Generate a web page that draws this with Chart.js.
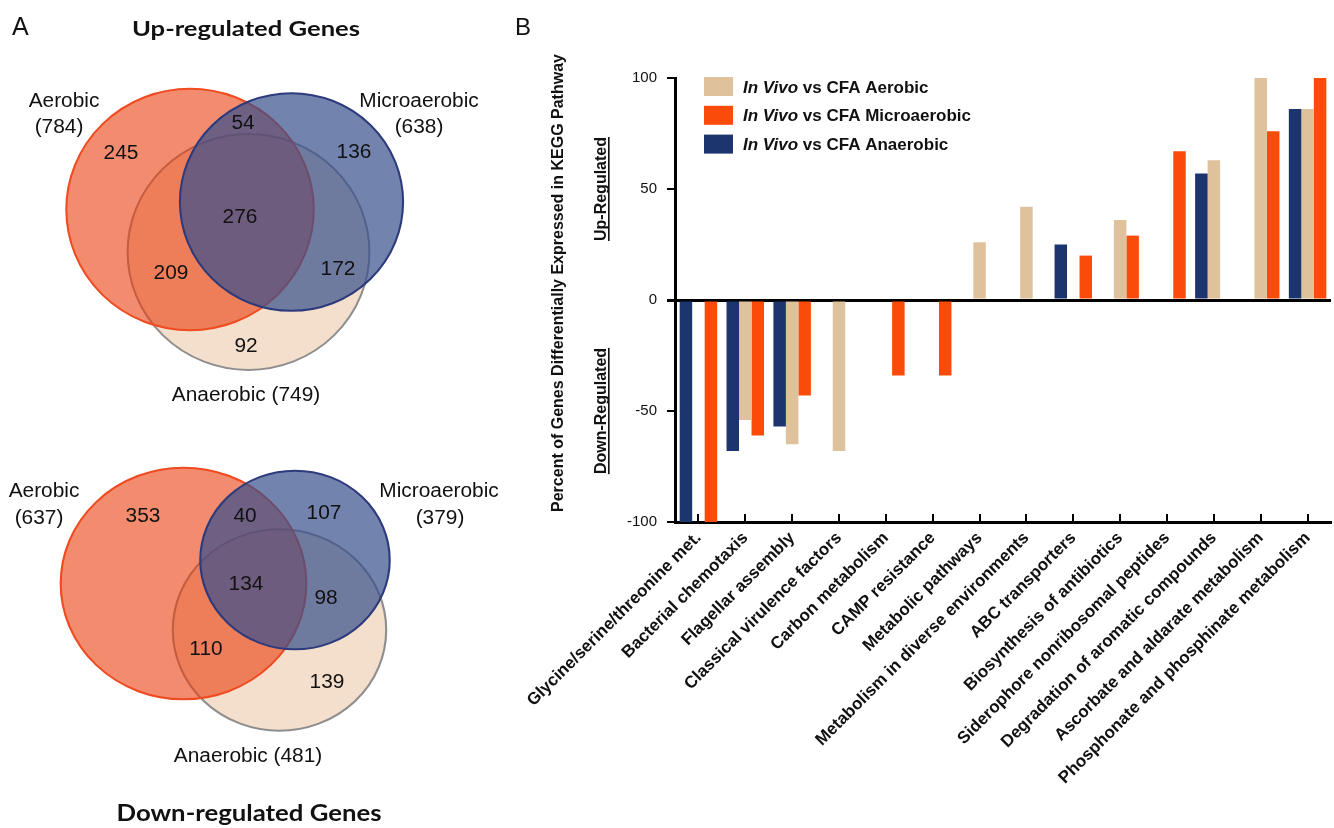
<!DOCTYPE html>
<html><head><meta charset="utf-8">
<script src="https://cdn.jsdelivr.net/npm/chart.js@4.4.0/dist/chart.umd.min.js"></script>
<style>
html,body{margin:0;padding:0;background:#fff;overflow:hidden;width:1334px;height:828px;}
canvas{position:absolute;left:0;top:0;}
</style></head><body>
<canvas id="bar" width="1336" height="828"></canvas>
<canvas id="venn" width="530" height="828"></canvas>
<script>
// ================= DATA =================
// Panel B: KEGG pathway categories
const categories = [
  'Glycine/serine/threonine met.', 'Bacterial chemotaxis', 'Flagellar assembly',
  'Classical virulence factors', 'Carbon metabolism', 'CAMP resistance',
  'Metabolic pathways', 'Metabolism in diverse environments', 'ABC transporters',
  'Biosynthesis of antibiotics', 'Siderophore nonribosomal peptides',
  'Degradation of aromatic compounds', 'Ascorbate and aldarate metabolism',
  'Phosphonate and phosphinate metabolism'
];
// Percent of genes differentially expressed (null = no bar)
const anaerobicPct    = [-100, -68, -57, null, null, null, null, null, 25, null, null, 57, null, 86];
const aerobicPct      = [null, -54, -65, -68, null, null, 26, 42, null, 36, null, 63, 100, 86];
const microaerobicPct = [-100, -61, -43, null, -34, -34, null, null, 20, 29, 67, null, 76, 100];
const yTickValues = [-100, -50, 0, 50, 100];
const legendConditions = ['Aerobic', 'Microaerobic', 'Anaerobic'];

// Panel A: Venn diagram region counts
const vennSetNames = ['Aerobic', 'Microaerobic', 'Anaerobic'];
const vennSetKeys = ['A', 'M', 'N'];
const vennRegionKeys = ['A', 'AM', 'M', 'AMN', 'AN', 'MN', 'N'];
const upRegulatedCounts   = [245, 54, 136, 276, 209, 172, 92];
const downRegulatedCounts = [353, 40, 107, 134, 110, 98, 139];
const vennTitles = ['Up-regulated Genes', 'Down-regulated Genes'];

// ================= LAYOUT / STYLE =================
const FONT = '"Liberation Sans", Arial, Helvetica, sans-serif';
const TITLE_FONT = 'Lato, "Open Sans", sans-serif';
Chart.defaults.font.family = FONT;
Chart.defaults.color = '#111';

const COL = { aer: '#DFC19C', mic: '#FA4B0A', ana: '#1C356F' };

const vennLayout = [
  { title: [246, 36], titleW: 228, titleSize: 20, k: 4.31, sx: 1.025,
    centers: [[190, 209.5], [291.5, 202], [248.5, 252]],
    regions: [[121, 159], [243, 129], [354, 158], [240, 223], [171, 279], [338, 275], [246, 352]],
    labels: [{ pos: [64, 107], pos2: [59, 133] }, { pos: [419, 107], pos2: [419, 133] }, { pos: [246, 401] }] },
  { title: [249, 821], titleW: 265, titleSize: 22, k: 4.59, sx: 1.06,
    centers: [[183.5, 583.5], [295, 560], [279.5, 630]],
    regions: [[143, 522], [245, 522], [324, 519], [246, 590], [206, 655], [326, 604], [327, 688]],
    labels: [{ pos: [44, 497], pos2: [39, 524] }, { pos: [439, 497], pos2: [440, 524] }, { pos: [248, 762] }] }
];
const vennStyle = {
  A: { fill: 'rgba(235,58,11,0.59)', stroke: '#EF4A20' },
  M: { fill: 'rgba(54,78,139,0.70)', stroke: '#2D3A7C' },
  N: { fill: '#F3DFCB', stroke: '#8E8E8E' }
};
// Chart.js paints the last dataset first: listing Micro, Aerobic, Anaerobic
// paints Anaerobic at the bottom and Microaerobic on top.
const vennListOrder = [1, 0, 2];

// ================= HELPERS =================
function setTotal(counts, key) {
  return counts.reduce((s, n, i) => s + (vennRegionKeys[i].includes(key) ? n : 0), 0);
}
function drawText(ctx, txt, x, y, font, sx, align) {
  ctx.save();
  ctx.font = font; ctx.fillStyle = '#111';
  ctx.textAlign = align || 'center'; ctx.textBaseline = 'alphabetic';
  ctx.translate(x, y); ctx.scale(sx || 1, 1);
  ctx.fillText(txt, 0, 0);
  ctx.restore();
}
function fitText(ctx, txt, x, y, font, width) {
  ctx.save(); ctx.font = font;
  const w = ctx.measureText(txt).width;
  ctx.restore();
  drawText(ctx, txt, x, y, font, width / w);
}
function rotText(ctx, txt, x, y, font, underline) {
  ctx.save();
  ctx.translate(x, y); ctx.rotate(-Math.PI / 2);
  ctx.font = font; ctx.fillStyle = '#111';
  ctx.textAlign = 'center'; ctx.textBaseline = 'alphabetic';
  ctx.fillText(txt, 0, 0);
  if (underline) {
    const w = ctx.measureText(txt).width;
    ctx.fillRect(-w / 2, 2, w, 1.6);
  }
  ctx.restore();
}

// ================= BAR CHART (panel B) =================
const barDecor = {
  id: 'barDecor',
  afterDraw(chart) {
    const ctx = chart.ctx, ys = chart.scales.y;
    drawText(ctx, 'B', 515, 35, `24px ${FONT}`, 1, 'left');
    rotText(ctx, 'Percent of Genes Differentially Expressed in KEGG Pathway', 563, 283, `bold 16px ${FONT}`, false);
    const up = (ys.getPixelForValue(0) + ys.getPixelForValue(100)) / 2;
    const dn = (ys.getPixelForValue(0) + ys.getPixelForValue(-100)) / 2;
    rotText(ctx, 'Up-Regulated', 606, up, `bold 16px ${FONT}`, true);
    rotText(ctx, 'Down-Regulated', 606, dn, `bold 16px ${FONT}`, true);
    // legend
    const LX = 704, LW = 29, LH = 19, Y0 = 86.5, DY = 28.8, TX = 743;
    legendConditions.forEach((cond, row) => {
      const ds = chart.data.datasets.find(d => d.condition === cond);
      const cy = Y0 + row * DY;
      ctx.save();
      ctx.fillStyle = ds.backgroundColor;
      ctx.fillRect(LX, cy - LH / 2, LW, LH);
      ctx.fillStyle = '#111'; ctx.textAlign = 'left'; ctx.textBaseline = 'alphabetic';
      ctx.font = `italic bold 17px ${FONT}`;
      ctx.fillText('In Vivo', TX, cy + 6);
      const w = ctx.measureText('In Vivo').width;
      ctx.font = `bold 17px ${FONT}`;
      ctx.fillText(' vs CFA ' + cond, TX + w, cy + 6);
      ctx.restore();
    });
  }
};

const isZero = c => c.tick && c.tick.value === 0;
new Chart(document.getElementById('bar'), {
  type: 'bar',
  data: {
    labels: categories,
    datasets: [
      { label: 'In Vivo vs CFA Anaerobic', condition: 'Anaerobic', data: anaerobicPct, backgroundColor: COL.ana },
      { label: 'In Vivo vs CFA Aerobic', condition: 'Aerobic', data: aerobicPct, backgroundColor: COL.aer },
      { label: 'In Vivo vs CFA Microaerobic', condition: 'Microaerobic', data: microaerobicPct, backgroundColor: COL.mic }
    ]
  },
  options: {
    responsive: false, animation: false, devicePixelRatio: 1, events: [],
    layout: { padding: { top: 78, right: 0, left: 0, bottom: 0 } },
    datasets: { bar: { categoryPercentage: 0.8, barPercentage: 1.0, borderWidth: 0 } },
    plugins: { legend: { display: false }, tooltip: { enabled: false } },
    scales: {
      x: {
        offset: true,
        grid: { offset: false, drawOnChartArea: false, color: '#000', lineWidth: 2, tickLength: -8 },
        border: { color: '#000', width: 3 },
        ticks: { color: '#111', font: { size: 17, weight: 'bold' }, minRotation: 45, maxRotation: 45, autoSkip: false, padding: 14 },
        afterFit(s) { s.height = 828 - 522; }
      },
      y: {
        min: -100, max: 100,
        afterBuildTicks(s) { s.ticks = yTickValues.map(v => ({ value: v })); },
        grid: {
          color: c => isZero(c) ? '#000' : 'rgba(0,0,0,0)',
          lineWidth: c => isZero(c) ? 3 : 0,
          tickColor: '#000',
          tickWidth: c => isZero(c) ? 3 : 2,
          tickLength: 8
        },
        border: { color: '#000', width: 3 },
        ticks: { color: '#111', font: { size: 15 }, padding: 10 },
        afterFit(s) { s.width = 675; }
      }
    }
  },
  plugins: [barDecor]
});

// ================= VENN DIAGRAMS (panel A) =================
const radiusFn = c => {
  const s = c.chart.scales.x;
  return s.getPixelForValue(c.dataset.k * Math.sqrt(c.raw.n)) - s.getPixelForValue(0);
};
const vennCountSets = [upRegulatedCounts, downRegulatedCounts];
const vennDatasets = [];
vennCountSets.forEach((counts, d) => {
  const L = vennLayout[d];
  vennListOrder.forEach(si => {
    const sk = vennSetKeys[si];
    vennDatasets.push({
      label: vennTitles[d] + ' ' + vennSetNames[si],
      data: [{ x: L.centers[si][0], y: L.centers[si][1], n: setTotal(counts, sk) }],
      k: L.k, sx: L.sx,
      pointStyle: 'circle',
      pointBackgroundColor: vennStyle[sk].fill,
      pointBorderColor: vennStyle[sk].stroke,
      pointBorderWidth: 2,
      pointRadius: radiusFn, pointHoverRadius: radiusFn,
      showLine: false, clip: false
    });
  });
});

const ellipseStretch = {
  id: 'ellipseStretch',
  beforeDatasetDraw(chart, args) {
    const ds = chart.data.datasets[args.index];
    const el = args.meta.data[0];
    const ctx = chart.ctx;
    ctx.save();
    if (el) { ctx.translate(el.x, el.y); ctx.scale(ds.sx || 1, 1); ctx.translate(-el.x, -el.y); }
  },
  afterDatasetDraw(chart) { chart.ctx.restore(); }
};

const vennText = {
  id: 'vennText',
  afterDatasetsDraw(chart) {
    const ctx = chart.ctx, xs = chart.scales.x, ys = chart.scales.y;
    const P = p => [xs.getPixelForValue(p[0]), ys.getPixelForValue(p[1])];
    drawText(ctx, 'A', 12, 35, `25px ${FONT}`, 1, 'left');
    const TF = `19.5px ${FONT}`, TSX = 1.07;
    vennCountSets.forEach((counts, d) => {
      const L = vennLayout[d];
      const [tx, ty] = P(L.title);
      fitText(ctx, vennTitles[d], tx, ty, `bold ${L.titleSize}px ${TITLE_FONT}`, L.titleW);
      counts.forEach((n, i) => { const [x, y] = P(L.regions[i]); drawText(ctx, String(n), x, y, TF, TSX); });
      vennSetKeys.forEach((sk, si) => {
        const lab = L.labels[si];
        const total = setTotal(counts, sk);
        if (lab.pos2) {
          const [x1, y1] = P(lab.pos); drawText(ctx, vennSetNames[si], x1, y1, TF, TSX);
          const [x2, y2] = P(lab.pos2); drawText(ctx, `(${total})`, x2, y2, TF, TSX);
        } else {
          const [x1, y1] = P(lab.pos); drawText(ctx, `${vennSetNames[si]} (${total})`, x1, y1, TF, TSX);
        }
      });
    });
  }
};

new Chart(document.getElementById('venn'), {
  type: 'scatter',
  data: { datasets: vennDatasets },
  options: {
    responsive: false, animation: false, devicePixelRatio: 1, events: [],
    layout: { padding: 0 },
    plugins: { legend: { display: false }, tooltip: { enabled: false } },
    scales: {
      x: { type: 'linear', min: 0, max: 530, display: false },
      y: { type: 'linear', min: 0, max: 828, reverse: true, display: false }
    }
  },
  plugins: [ellipseStretch, vennText]
});
</script>
</body></html>
